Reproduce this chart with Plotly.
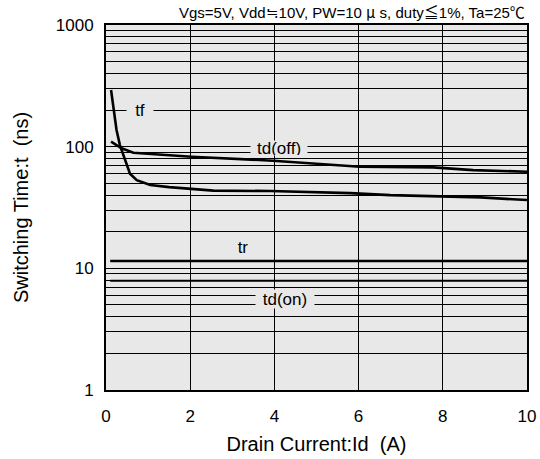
import math
import plotly.graph_objects as go

# ---- data ----
tf_x = [0.12, 0.17, 0.25, 0.33, 0.45, 0.57, 0.73, 1.05, 1.5, 2.0, 2.55, 3.9, 4.9, 5.8, 6.75, 7.9, 8.9, 10.0]
tf_y = [292, 213, 137, 103, 78, 60, 53, 48.4, 46.5, 45, 43.5, 43.2, 42.6, 41.5, 40, 39.3, 38.3, 36.4]

tdoff_x = [0.12, 0.37, 0.65, 1.05, 1.76, 2.03, 3.97, 5.56, 6.03, 7.77, 8.72, 10.0]
tdoff_y = [110, 97, 89, 87, 84, 82.6, 76.6, 70.6, 68.4, 67.6, 64.2, 62.2]

tr_x = [0.1, 10.0]
tr_y = [11.5, 11.5]

tdon_x = [0.1, 10.0]
tdon_y = [7.9, 7.9]

x_ticks = [0, 2, 4, 6, 8, 10]
y_grid = [m * 10 ** e for e in range(0, 3) for m in range(1, 10)] + [1000]
y_labels = {1: "1", 10: "10", 100: "100", 1000: "1000"}

labels = [
    ("tf", 0.8, 200, 26, 16),
    ("td(off)", 4.12, 97, 56, 14),
    ("tr", 3.25, 15, 16, 16),
    ("td(on)", 4.25, 5.6, 58, 18),
]

BG = "#e8e8e8"
FONT = "Liberation Sans, Arial, sans-serif"
CJK = "Noto Sans CJK JP"


def cjk(ch):
    return f'<span style="font-family:{CJK}">{ch}</span>'


cond_text = ("Vgs=5V, Vdd" + cjk("≒") + "10V, PW=10 " + cjk("μ") + " s, duty" + cjk("≦")
             + "1%, Ta=25" + cjk("℃"))

fig = go.Figure()
for xs, ys, w in [(tf_x, tf_y, 2.6), (tdoff_x, tdoff_y, 2.6), (tr_x, tr_y, 2.6), (tdon_x, tdon_y, 2.0)]:
    fig.add_trace(go.Scatter(x=xs, y=ys, mode="lines", line=dict(color="black", width=w),
                             showlegend=False, hoverinfo="skip"))

for text, x, y, w, h in labels:
    fig.add_annotation(x=x, y=math.log10(y), yref="y", xref="x", text=text, showarrow=False,
                       bgcolor=BG, width=w, height=h, borderpad=0,
                       font=dict(family=FONT, size=17, color="black"))

fig.add_annotation(xref="paper", yref="paper", x=1.0, y=1.0, xanchor="right", yanchor="bottom",
                   yshift=1, text=cond_text, showarrow=False,
                   font=dict(family=FONT, size=15, color="black"))

fig.update_layout(
    width=540, height=459,
    margin=dict(l=106, r=13, t=25, b=69, autoexpand=False),
    paper_bgcolor="white", plot_bgcolor=BG,
    font=dict(family=FONT, size=17, color="black"),
    xaxis=dict(range=[0, 10], tickvals=x_ticks, ticktext=[str(v) for v in x_ticks],
               showgrid=True, gridcolor="black", gridwidth=1, zeroline=False,
               showline=True, linecolor="black", linewidth=2, mirror=True,
               ticks="", ticklabelstandoff=10, automargin=False,
               title=dict(text="Drain Current:Id  (A)", font=dict(size=20), standoff=12)),
    yaxis=dict(type="log", range=[0, 3], tickvals=y_grid,
               ticktext=[y_labels.get(v, "") for v in y_grid],
               showgrid=True, gridcolor="black", gridwidth=1, zeroline=False,
               showline=True, linecolor="black", linewidth=2, mirror=True,
               ticks="", ticklabelstandoff=7, automargin=False,
               title=dict(text="Switching Time:t  (ns)", font=dict(size=20), standoff=22)),
)

fig.write_html("out.html", config={"displayModeBar": False},
               post_script="document.body.style.margin='0';")
